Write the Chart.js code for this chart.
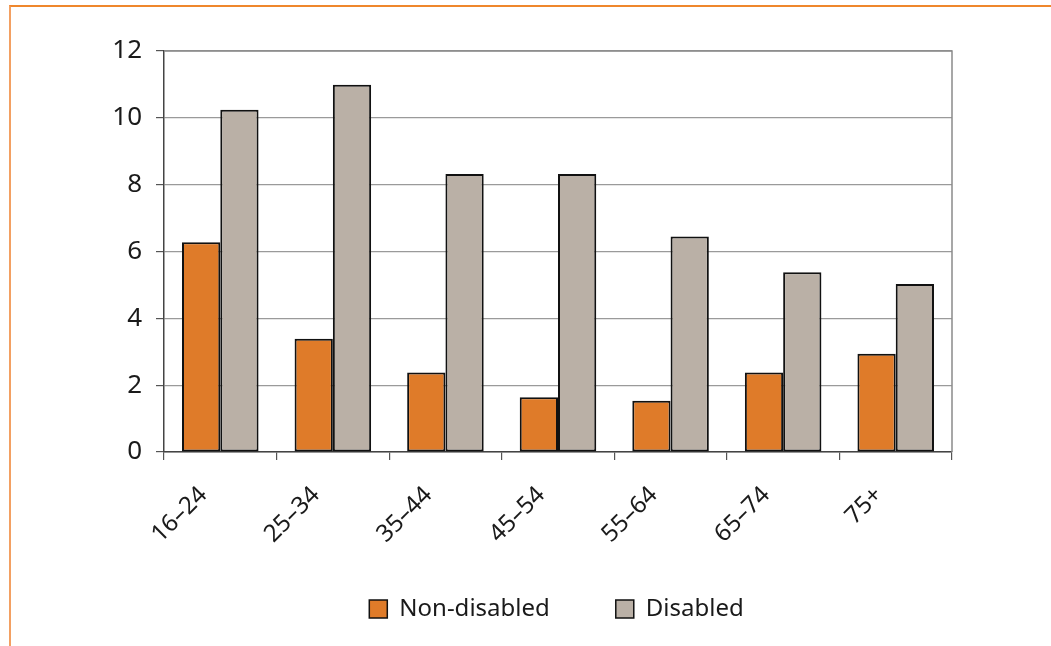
<!DOCTYPE html>
<html>
<head>
<meta charset="utf-8">
<script src="https://cdn.jsdelivr.net/npm/chart.js@4/dist/chart.umd.min.js"></script>
<style>
  html, body { margin: 0; padding: 0; background: #fff; }
  body { width: 1051px; height: 646px; position: relative; overflow: hidden; }
  .frame {
    position: absolute; left: 9px; top: 5px; width: 1100px; height: 700px;
    border-top: 2px solid #ef872c; border-left: 2px solid #f3a062;
  }
  #wrap { position: absolute; left: 0; top: 0; width: 1051px; height: 646px; }
</style>
</head>
<body>
<div class="frame"></div>
<div id="wrap"><canvas id="chart"></canvas></div>
<script>
  'use strict';

  // age bands
  const AGE_GROUPS = ['16–24', '25–34', '35–44', '45–54', '55–64', '65–74', '75+'];

  // values
  const NON_DISABLED = [6.28, 3.39, 2.38, 1.64, 1.53, 2.38, 2.94];
  const DISABLED = [10.24, 10.99, 8.32, 8.32, 6.45, 5.38, 5.03];

  const Y_TICKS = [0, 2, 4, 6, 8, 10, 12];

  const FONT = '"Noto Sans", "Open Sans", sans-serif';
  const INK = '#1a1a1a';

  // grey frame round the plot (top + right sides)
  const plotFrame = {
    id: 'plotFrame',
    afterDraw(chart) {
      const { ctx, chartArea: a } = chart;
      ctx.save();
      ctx.strokeStyle = '#8a8a8a';
      ctx.lineWidth = 1.5;
      ctx.beginPath();
      ctx.moveTo(a.left, a.top);
      ctx.lineTo(a.right, a.top);
      ctx.lineTo(a.right, a.bottom);
      ctx.stroke();
      ctx.restore();
    }
  };

  // the wide gap between legend items also pads it vertically, so
  // shrink the legend box and pull it up / right after layout
  const legendPlace = {
    id: 'legendPlace',
    afterInit(chart) {
      const lg = chart.legend;
      if (!lg) return;
      const fit = lg.fit.bind(lg);
      lg.fit = function () { fit(); this.height = 69; };
    },
    afterLayout(chart) {
      const lg = chart.legend;
      if (!lg) return;
      lg.left = 161;
      lg.right = chart.chartArea.right;
      lg.top = 531;
      lg.bottom = 631;
    }
  };

  new Chart(document.getElementById('chart').getContext('2d'), {
    type: 'bar',
    plugins: [plotFrame, legendPlace],
    data: {
      labels: AGE_GROUPS,
      datasets: [
        {
          label: 'Non-disabled',
          data: NON_DISABLED,
          backgroundColor: '#df7b29',
          borderColor: '#111',
          borderWidth: 2,
          borderSkipped: false
        },
        {
          label: 'Disabled',
          data: DISABLED,
          backgroundColor: '#bab0a6',
          borderColor: '#111',
          borderWidth: 2,
          borderSkipped: false
        }
      ]
    },
    options: {
      responsive: true,
      maintainAspectRatio: false,
      animation: false,
      datasets: { bar: { categoryPercentage: 0.68, barPercentage: 1.0 } },
      layout: { padding: { left: 100, right: 99, top: 51, bottom: 15 } },
      plugins: {
        legend: {
          position: 'bottom',
          labels: {
            color: INK,
            font: { family: FONT, size: 24 },
            boxWidth: 18,
            boxHeight: 18,
            padding: 66,
            generateLabels(chart) {
              return chart.data.datasets.map((ds, i) => ({
                text: ds.label,
                fillStyle: ds.backgroundColor,
                strokeStyle: '#111',
                lineWidth: 1.5,
                fontColor: INK,
                datasetIndex: i
              }));
            }
          }
        },
        tooltip: { enabled: false }
      },
      scales: {
        x: {
          offset: true,
          grid: {
            offset: true,
            drawOnChartArea: false,
            drawTicks: true,
            tickLength: 8,
            color: '#555',
            lineWidth: 1.2
          },
          border: { color: '#444', width: 1.5 },
          ticks: {
            color: INK,
            font: { family: FONT, size: 24 },
            minRotation: 45,
            maxRotation: 45,
            padding: 21,
            labelOffset: -17
          },
          afterFit(scale) { scale.height = 110; }
        },
        y: {
          min: 0,
          max: 12,
          afterBuildTicks(scale) { scale.ticks = Y_TICKS.map(v => ({ value: v })); },
          grid: {
            color: '#9a9a9a',
            lineWidth: 1.2,
            drawTicks: true,
            tickLength: 8,
            tickColor: '#555'
          },
          border: { color: '#444', width: 1.5 },
          ticks: {
            color: INK,
            font: { family: FONT, size: 26 },
            padding: 14
          },
          afterFit(scale) { scale.width = 64; }
        }
      }
    }
  });
</script>
</body>
</html>
